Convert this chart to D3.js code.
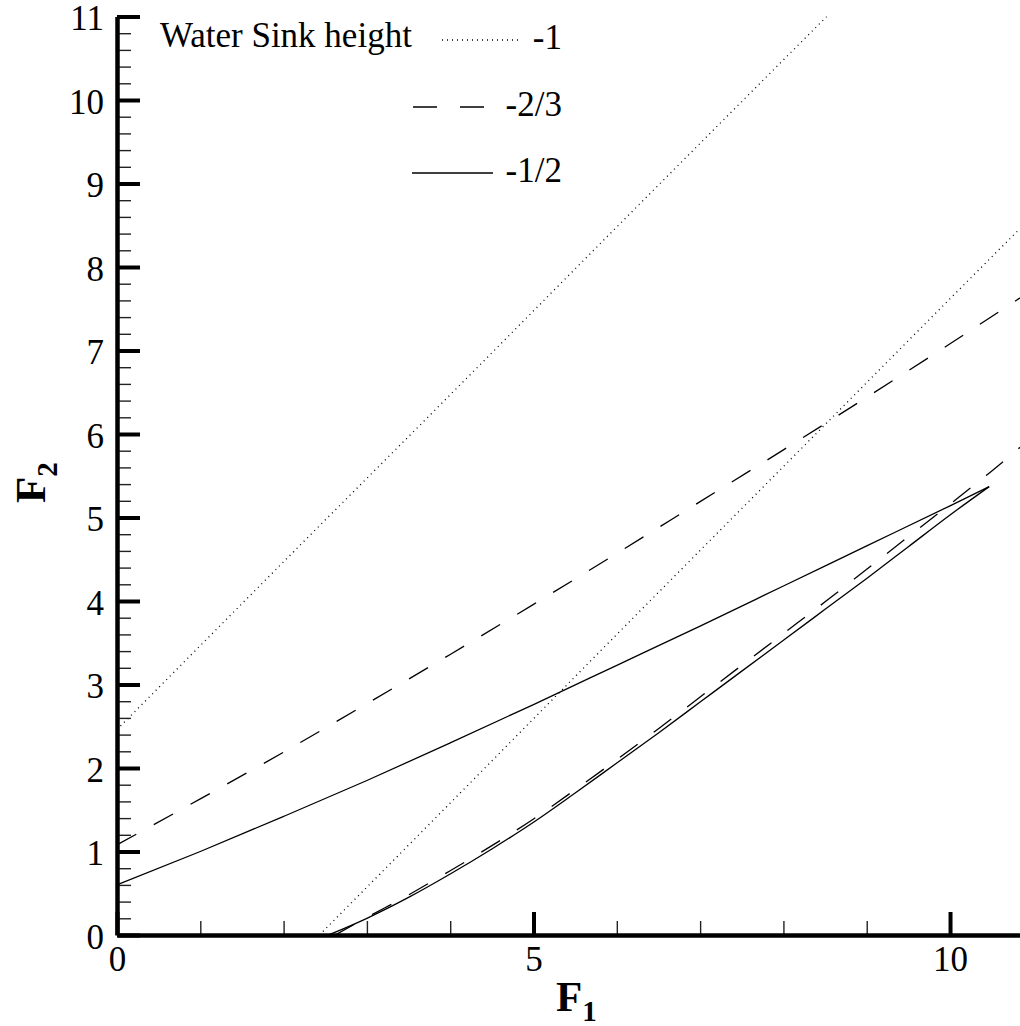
<!DOCTYPE html>
<html>
<head>
<meta charset="utf-8">
<script src="https://cdn.jsdelivr.net/npm/d3@7/dist/d3.min.js"></script>
<style>
	body { margin: 0; background: #fff; }
	svg { display: block; font-family: "Liberation Serif", "Times New Roman", serif; }
	.curve { fill: none; stroke: #000; stroke-width: 1.3; }
	.axis .domain { stroke: #000; stroke-width: 4.5; }
	.major line { stroke: #000; stroke-width: 4; }
	.minor line { stroke: #222; stroke-width: 1.4; }
	.minor .domain { display: none; }
	.tick-label { font-family: "Liberation Serif", serif; font-size: 35px; fill: #000; }
</style>
</head>
<body>
<svg id="chart" width="1020" height="1026"></svg>
<script>

// sink heights (legend entries)
var sinkHeights = ["-1", "-2/3", "-1/2"];

// [F1, F2], upper and lower branch of each sink height
var upperM1 = [[0, 2.46], [2, 4.47], [4, 6.47], [6, 8.48], [8.52, 11.0]];
var lowerM1 = [[2.43, 0], [4, 1.58], [6, 3.6], [8, 5.61], [10, 7.62], [10.84, 8.46]];

var upperM23 = [[0, 1.08], [1, 1.63], [2, 2.19], [3, 2.77], [4, 3.36], [5, 3.96], [6, 4.57],
	[7, 5.19], [8, 5.81], [9, 6.44], [10, 7.08], [10.84, 7.63]];
var lowerM23 = [[2.62, 0], [3, 0.21], [3.5, 0.48], [4, 0.77], [4.5, 1.07], [5, 1.39], [5.5, 1.74],
	[6, 2.1], [6.5, 2.47], [7, 2.85], [7.5, 3.23], [8, 3.61], [8.5, 3.99], [9, 4.38], [9.5, 4.77],
	[10, 5.16], [10.48, 5.54], [10.84, 5.84]];

var upperM12 = [[0, 0.6], [1, 1.0], [2, 1.42], [3, 1.85], [4, 2.3], [5, 2.76], [6, 3.23],
	[7, 3.7], [8, 4.18], [9, 4.66], [10, 5.14], [10.47, 5.37]];
var lowerM12 = [[2.54, 0], [3, 0.2], [3.5, 0.45], [4, 0.73], [4.5, 1.03], [5, 1.35], [5.5, 1.7],
	[6, 2.06], [6.5, 2.42], [7, 2.79], [7.5, 3.16], [8, 3.53], [8.5, 3.9], [9, 4.27], [9.5, 4.65],
	[10, 5.03], [10.47, 5.37]];

// axis ticks
var xMajor = [0, 5, 10];
var xMinor = [1, 2, 3, 4, 6, 7, 8, 9];
var yMajor = [0, 1, 2, 3, 4, 5, 6, 7, 8, 9, 10, 11];
var yMinor = d3.range(0, 55).map(function(i){ return i / 5; })
	.filter(function(v){ return Math.abs(v - Math.round(v)) > 0.01; });

var series = [
	{ sink: 0, points: upperM1 }, { sink: 0, points: lowerM1 },
	{ sink: 1, points: upperM23 }, { sink: 1, points: lowerM23 },
	{ sink: 2, points: upperM12 }, { sink: 2, points: lowerM12 }
];
var dashes = ["1,4", "22,20", null];

var svg = d3.select("#chart");

var x = d3.scaleLinear().domain([0, 10.84]).range([117, 1020]);
var y = d3.scaleLinear().domain([0, 11]).range([935, 16.5]);

svg.append("clipPath")
	.attr("id", "plot-clip")
	.append("rect")
	.attr("x", x(0))
	.attr("y", y(11))
	.attr("width", x(10.84) - x(0))
	.attr("height", y(0) - y(11));

var line = d3.line()
	.x(function(d){ return x(d[0]); })
	.y(function(d){ return y(d[1]); })
	.curve(d3.curveMonotoneX);

svg.append("g")
	.attr("clip-path", "url(#plot-clip)")
	.selectAll(".curve")
	.data(series)
	.enter()
	.append("path")
	.attr("class", "curve")
	.attr("stroke-dasharray", function(d){ return dashes[d.sink]; })
	.attr("d", function(d){ return line(d.points); });

// minor ticks
svg.append("g")
	.attr("class", "axis minor")
	.attr("transform", "translate(" + x(0) + ",0)")
	.call(d3.axisLeft(y).tickValues(yMinor).tickSize(-14).tickFormat(""));

svg.append("g")
	.attr("class", "axis minor")
	.attr("transform", "translate(0," + y(0) + ")")
	.call(d3.axisBottom(x).tickValues(xMinor).tickSize(-14).tickFormat(""));

// major ticks with labels
var yAxis = svg.append("g")
	.attr("class", "axis major")
	.attr("transform", "translate(" + x(0) + ",0)")
	.call(d3.axisLeft(y).tickValues(yMajor).tickSize(-23).tickSizeOuter(0).tickPadding(13).tickFormat(d3.format("d")));

var xAxis = svg.append("g")
	.attr("class", "axis major")
	.attr("transform", "translate(0," + y(0) + ")")
	.call(d3.axisBottom(x).tickValues(xMajor).tickSize(-23).tickSizeOuter(0).tickPadding(11).tickFormat(d3.format("d")));

[yAxis, xAxis].forEach(function(g){
	g.attr("font-family", null).attr("font-size", null);
	g.selectAll("text").attr("class", "tick-label");
});
yAxis.selectAll("text").attr("dy", "0.38em");

// axis titles
var xTitle = svg.append("text")
	.attr("x", 556)
	.attr("y", 1011)
	.attr("font-weight", "bold")
	.attr("font-size", 43);
xTitle.append("tspan").text("F");
xTitle.append("tspan").attr("font-size", 29).attr("dy", 10).text("1");

var yTitle = svg.append("text")
	.attr("transform", "translate(45,503) rotate(-90)")
	.attr("font-weight", "bold")
	.attr("font-size", 43);
yTitle.append("tspan").text("F");
yTitle.append("tspan").attr("font-size", 29).attr("dy", 12).text("2");

// legend
var legend = svg.append("g").attr("class", "legend");

legend.append("text")
	.attr("x", 160)
	.attr("y", 47)
	.attr("font-size", 35)
	.text("Water Sink height");

var legendRows = [
	{ y: 40, x1: 442, x2: 522 },
	{ y: 107, x1: 413, x2: 484 },
	{ y: 173, x1: 412, x2: 493 }
];

var rows = legend.selectAll(".row")
	.data(sinkHeights)
	.enter()
	.append("g")
	.attr("class", "row")
	.attr("transform", function(d, i){ return "translate(0," + legendRows[i].y + ")"; });

rows.append("line")
	.attr("class", "curve")
	.attr("x1", function(d, i){ return legendRows[i].x1; })
	.attr("x2", function(d, i){ return legendRows[i].x2; })
	.attr("stroke-dasharray", function(d, i){ return i == 1 ? "24,23" : dashes[i]; });

rows.append("text")
	.attr("x", 562)
	.attr("y", 9)
	.attr("font-size", 35)
	.attr("text-anchor", "end")
	.text(function(d){ return d; });

</script>
</body>
</html>
